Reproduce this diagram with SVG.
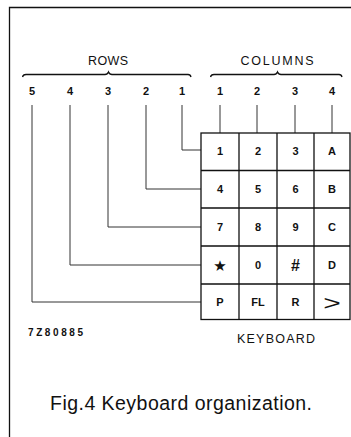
<svg xmlns="http://www.w3.org/2000/svg" width="351" height="437" viewBox="0 0 351 437">
<style>
.ln{stroke:#111;stroke-width:1.3;fill:none}
.thin{stroke:#333;stroke-width:1;fill:none}
.key{fill:#fff;stroke:#111;stroke-width:1.3}
.kt{font-family:"Liberation Sans",Arial,sans-serif;font-size:11px;font-weight:bold;fill:#111;text-anchor:middle}
.lb{font-family:"Liberation Sans",Arial,sans-serif;font-size:12.5px;fill:#111;text-anchor:middle}
.num{font-family:"Liberation Sans",Arial,sans-serif;font-size:11px;font-weight:bold;fill:#111;text-anchor:middle}
</style>
<rect width="351" height="437" fill="#fff"/>
<g id="frame">
<path class="ln" d="M9.5,437 V7.5 H351"/>
</g>
<g id="rows-label">
<text class="lb" x="108" y="65" textLength="40">ROWS</text>
<path class="ln" d="M22.5,77 Q23,74.5 26,74.5 H105 Q107.5,74.5 108.5,72 Q109.5,74.5 112,74.5 H188 Q190.5,74.5 191,77" stroke-width="1.1"/>
<text class="num" x="32" y="95">5</text>
<text class="num" x="70" y="95">4</text>
<text class="num" x="108" y="95">3</text>
<text class="num" x="146" y="95">2</text>
<text class="num" x="182" y="95">1</text>
</g>
<g id="columns-label">
<text class="lb" x="277" y="65" textLength="73">COLUMNS</text>
<path class="ln" d="M210.5,77 Q211,74.5 214,74.5 H274 Q276.5,74.5 277.5,72 Q278.5,74.5 281,74.5 H339 Q341.5,74.5 342,77" stroke-width="1.1"/>
<text class="num" x="220" y="95">1</text>
<text class="num" x="257" y="95">2</text>
<text class="num" x="295" y="95">3</text>
<text class="num" x="332" y="95">4</text>
</g>
<g id="connectors">
<path class="thin" d="M182,105 V150 H201"/>
<path class="thin" d="M146,105 V189 H201"/>
<path class="thin" d="M108,105 V227 H201"/>
<path class="thin" d="M70,105 V265 H201"/>
<path class="thin" d="M32,105 V302 H201"/>
<path class="thin" d="M220,105 V133"/>
<path class="thin" d="M257,105 V133"/>
<path class="thin" d="M295,105 V133"/>
<path class="thin" d="M332,105 V133"/>
</g>
<g id="keyboard">
<rect class="key" x="201" y="133" width="149" height="186.5"/>
<path class="ln" d="M239,133 V319.5 M277,133 V319.5 M314,133 V319.5 M201,170.5 H350 M201,208 H350 M201,246 H350 M201,284 H350"/>
<g id="k1"><text class="kt" x="220" y="155">1</text></g>
<g id="k2"><text class="kt" x="258" y="155">2</text></g>
<g id="k3"><text class="kt" x="295.5" y="155">3</text></g>
<g id="kA"><text class="kt" x="332" y="155">A</text></g>
<g id="k4"><text class="kt" x="220" y="193">4</text></g>
<g id="k5"><text class="kt" x="258" y="193">5</text></g>
<g id="k6"><text class="kt" x="295.5" y="193">6</text></g>
<g id="kB"><text class="kt" x="332" y="193">B</text></g>
<g id="k7"><text class="kt" x="220" y="231">7</text></g>
<g id="k8"><text class="kt" x="258" y="231">8</text></g>
<g id="k9"><text class="kt" x="295.5" y="231">9</text></g>
<g id="kC"><text class="kt" x="332" y="231">C</text></g>
<g id="kstar"><text class="kt" x="220" y="271" style="font-size:15px;font-family:'DejaVu Sans',sans-serif">★</text></g>
<g id="k0"><text class="kt" x="258" y="269">0</text></g>
<g id="khash"><text class="kt" x="295.5" y="271" style="font-size:16px">#</text></g>
<g id="kD"><text class="kt" x="332" y="269">D</text></g>
<g id="kP"><text class="kt" x="220" y="306">P</text></g>
<g id="kFL"><text class="kt" x="258" y="306">FL</text></g>
<g id="kR"><text class="kt" x="295.5" y="306">R</text></g>
<g id="kgt"><text class="kt" transform="translate(332,309.5) scale(1.5,1)" x="0" y="0" style="font-size:20px;font-weight:normal">&gt;</text></g>
</g>
<g id="labels">
<text x="28" y="336" font-family="'Liberation Sans',Arial,sans-serif" font-size="10" font-weight="bold" fill="#111" textLength="55">7Z80885</text>
<text class="lb" x="276" y="343" textLength="78">KEYBOARD</text>
<text x="50" y="410" font-family="'Liberation Sans',Arial,sans-serif" font-size="19.5" fill="#111" textLength="262">Fig.4 Keyboard organization.</text>
</g>
</svg>
